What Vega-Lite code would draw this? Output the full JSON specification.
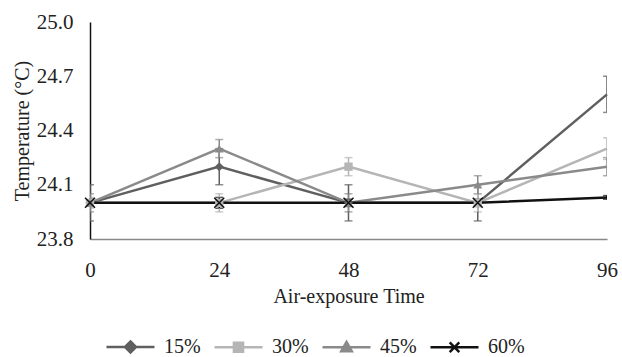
{
  "$schema": "https://vega.github.io/schema/vega-lite/v6.json",
  "width": 517,
  "height": 217,
  "autosize": "none",
  "padding": {"left": 90, "top": 22, "right": 15, "bottom": 118},
  "config": {
    "font": "Liberation Serif",
    "view": {"stroke": null},
    "axis": {"grid": false, "ticks": false, "labelFont": "Liberation Serif", "titleFont": "Liberation Serif", "labelFontSize": 21, "titleFontSize": 20, "labelColor": "#222", "titleColor": "#222", "titleFontWeight": "normal"},
    "legend": {"labelFont": "Liberation Serif", "labelFontSize": 20, "labelColor": "#222"}
  },
  "data": {
    "values": [
      {"time": 0, "group": "15%", "temp": 24.0, "err": 0.1},
      {"time": 24, "group": "15%", "temp": 24.2, "err": 0.1},
      {"time": 48, "group": "15%", "temp": 24.0, "err": 0.1},
      {"time": 72, "group": "15%", "temp": 24.0, "err": 0.1},
      {"time": 96, "group": "15%", "temp": 24.6, "err": 0.1},
      {"time": 0, "group": "30%", "temp": 24.0, "err": 0.03},
      {"time": 24, "group": "30%", "temp": 24.0, "err": 0.05},
      {"time": 48, "group": "30%", "temp": 24.2, "err": 0.05},
      {"time": 72, "group": "30%", "temp": 24.0, "err": 0.05},
      {"time": 96, "group": "30%", "temp": 24.3, "err": 0.06},
      {"time": 0, "group": "45%", "temp": 24.0, "err": 0.05},
      {"time": 24, "group": "45%", "temp": 24.3, "err": 0.05},
      {"time": 48, "group": "45%", "temp": 24.0, "err": 0.05},
      {"time": 72, "group": "45%", "temp": 24.1, "err": 0.05},
      {"time": 96, "group": "45%", "temp": 24.2, "err": 0.05},
      {"time": 0, "group": "60%", "temp": 24.0, "err": 0.02},
      {"time": 24, "group": "60%", "temp": 24.0, "err": 0.03},
      {"time": 48, "group": "60%", "temp": 24.0, "err": 0.02},
      {"time": 72, "group": "60%", "temp": 24.0, "err": 0.02},
      {"time": 96, "group": "60%", "temp": 24.03, "err": 0.01}
    ]
  },
  "encoding": {
    "x": {
      "field": "time", "type": "quantitative",
      "scale": {"domain": [0, 96], "nice": false},
      "axis": {"values": [0, 24, 48, 72, 96], "title": "Air-exposure Time", "domainColor": "#888", "domainWidth": 1.5, "labelPadding": 20, "titlePadding": 6, "labelFlush": false}
    },
    "y": {
      "field": "temp", "type": "quantitative",
      "scale": {"domain": [23.8, 25.0], "nice": false, "zero": false},
      "axis": {"values": [23.8, 24.1, 24.4, 24.7, 25.0], "format": ".1f", "title": "Temperature (°C)", "domainColor": "#111", "domainWidth": 1.5, "labelPadding": 17, "titlePadding": 4}
    },
    "color": {
      "field": "group", "type": "nominal",
      "scale": {"domain": ["15%", "30%", "45%", "60%"], "range": ["#5f5f5f", "#b5b5b5", "#8a8a8a", "#111111"]},
      "legend": {
        "orient": "none", "legendX": 15, "legendY": 299, "direction": "horizontal", "title": null,
        "symbolSize": 2304, "symbolStrokeWidth": 2.5, "labelOffset": 8, "columnPadding": 8,
        "encode": {
          "symbols": {
            "update": {
              "shape": {"signal": "datum.value == '15%' ? 'M-1,0H1M0,-0.23L0.23,0L0,0.23L-0.23,0Z' : datum.value == '30%' ? 'M-1,0H1M-0.19,-0.19H0.19V0.19H-0.19Z' : datum.value == '45%' ? 'M-1,0H1M0,-0.22L0.22,0.17L-0.22,0.17Z' : 'M-1,0H1M-0.2,-0.2L0.2,0.2M-0.2,0.2L0.2,-0.2'"},
              "fill": {"signal": "scale('color', datum.value)"},
              "stroke": {"signal": "scale('color', datum.value)"},
              "strokeWidth": {"value": 2.5},
              "opacity": {"value": 1},
              "fillOpacity": {"value": 1},
              "strokeOpacity": {"value": 1}
            }
          }
        }
      }
    }
  },
  "layer": [
    {
      "mark": {"type": "errorbar", "ticks": {"size": 8}, "thickness": 1.5, "clip": true},
      "encoding": {
        "yError": {"field": "err"}
      }
    },
    {
      "mark": {"type": "line", "strokeWidth": 2.5}
    },
    {
      "transform": [{"filter": "datum.time < 96 && datum.group == '15%'"}],
      "mark": {"type": "point", "filled": true, "size": 80, "opacity": 1, "shape": "diamond"}
    },
    {
      "transform": [{"filter": "datum.time < 96 && datum.group == '30%'"}],
      "mark": {"type": "point", "filled": true, "size": 70, "opacity": 1, "shape": "square"}
    },
    {
      "transform": [{"filter": "datum.time < 96 && datum.group == '45%'"}],
      "mark": {"type": "point", "filled": true, "size": 80, "opacity": 1, "shape": "triangle-up"}
    },
    {
      "transform": [{"filter": "datum.time < 96 && datum.group == '60%'"}],
      "mark": {"type": "point", "filled": false, "size": 100, "strokeWidth": 1.5, "opacity": 1, "shape": "M-1,-1L1,1M-1,1L1,-1"}
    }
  ]
}
